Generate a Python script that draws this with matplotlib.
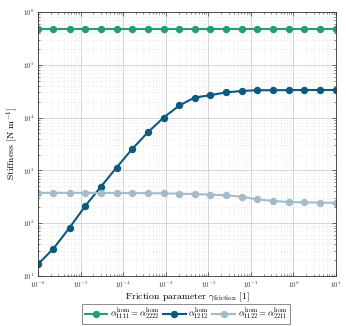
import numpy as np
import matplotlib
matplotlib.use("Agg")
import matplotlib.pyplot as plt
from matplotlib.ticker import LogLocator, NullFormatter

plt.rcParams['font.family'] = 'serif'
plt.rcParams['font.serif'] = ['cmr10', 'DejaVu Serif']
plt.rcParams['mathtext.fontset'] = 'cm'
plt.rcParams['axes.formatter.use_mathtext'] = True

# friction parameter (20 points, 1e-6 .. 1e1)
gamma = [1.0e-6, 2.3e-6, 5.5e-6, 1.3e-5, 3.0e-5, 7.0e-5, 1.6e-4, 3.8e-4, 8.9e-4,
         2.1e-3, 4.8e-3, 1.1e-2, 2.6e-2, 6.2e-2, 1.4e-1, 3.4e-1, 7.8e-1, 1.8, 4.3, 10.0]

# stiffness values
a1111 = [4.8e5] * 20
a1212 = [16.7, 33, 82, 214, 490, 1130, 2500, 5250, 10000, 17000,
         24000, 26500, 30000, 32000, 33000, 33000, 33200, 33300, 33300, 33300]
a1122 = [375, 375, 375, 375, 374, 373, 372, 370, 367, 362,
         356, 348, 338, 318, 283, 264, 252, 248, 246, 242]

c_green = '#1f9e78'
c_dark = '#0d5a7f'
c_light = '#a2bccb'

fig = plt.figure(figsize=(3.46, 3.26), dpi=100)
ax = fig.add_axes([38/346, 1 - 276/326, (336-38)/346, (276-12)/326])

ax.plot(gamma, a1111, '-o', color=c_green, lw=1.5, ms=4.3,
        label=r'$\alpha_{1111}^{\mathrm{hom}} = \alpha_{2222}^{\mathrm{hom}}$')
ax.plot(gamma, a1212, '-o', color=c_dark, lw=1.5, ms=4.3,
        label=r'$\alpha_{1212}^{\mathrm{hom}}$')
ax.plot(gamma, a1122, '-o', color=c_light, lw=1.5, ms=4.3,
        label=r'$\alpha_{1122}^{\mathrm{hom}} = \alpha_{2211}^{\mathrm{hom}}$')

ax.set_xscale('log')
ax.set_yscale('log')
ax.set_xlim(1e-6, 1e1)
ax.set_ylim(1e1, 1e6)
ax.xaxis.set_major_locator(LogLocator(base=10, numticks=20))
ax.yaxis.set_major_locator(LogLocator(base=10, numticks=20))
ax.xaxis.set_minor_locator(LogLocator(base=10, subs=np.arange(2, 10), numticks=100))
ax.yaxis.set_minor_locator(LogLocator(base=10, subs=np.arange(2, 10), numticks=100))
ax.xaxis.set_minor_formatter(NullFormatter())
ax.yaxis.set_minor_formatter(NullFormatter())

ax.grid(True, which='major', color='#d0d0d0', lw=0.6)
ax.grid(True, which='minor', color='#dcdcdc', lw=0.4, ls=':')
ax.set_axisbelow(True)
ax.tick_params(which='both', direction='in', top=True, right=True, labelsize=5, colors='#333333')
ax.tick_params(which='major', length=3, width=0.5, pad=2.5)
ax.tick_params(which='minor', length=1.5, width=0.4)
for s in ax.spines.values():
    s.set_linewidth(0.6)
    s.set_color('#333333')

ax.set_xlabel(r'Friction parameter $\gamma_{\mathrm{friction}}$ [1]', fontsize=7, labelpad=1)
ax.set_ylabel(r'Stiffness [N m$^{-1}$]', fontsize=7, labelpad=2)

leg = fig.legend(loc='center', bbox_to_anchor=(186/346, 1 - 314/326), ncol=3, fontsize=6.5,
                 frameon=True, fancybox=False, edgecolor='#555555', handlelength=2.5,
                 handletextpad=0.3, columnspacing=0.4, borderpad=0.25)
leg.get_frame().set_linewidth(0.6)

fig.savefig('out.png', dpi=100)
